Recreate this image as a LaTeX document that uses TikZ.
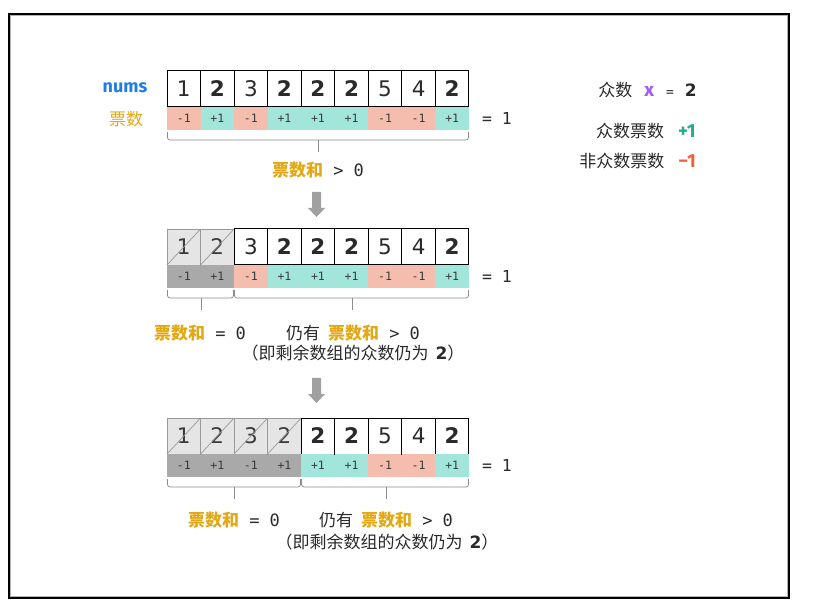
\documentclass[tikz,border=0pt]{standalone}
\usepackage{fontspec}
\setmainfont{DejaVu Sans}
\newfontfamily\cjk{Noto Sans CJK SC}
\newfontfamily\mono{DejaVu Sans Mono}
\newfontfamily\fira{Fira Sans}
\definecolor{goldc}{HTML}{E2A816}
\definecolor{bluec}{HTML}{1F7DE6}
\definecolor{pinkc}{HTML}{F4BDAE}
\definecolor{tealc}{HTML}{A2E5DA}
\definecolor{deadvote}{HTML}{A9A9A9}
\definecolor{deadfill}{HTML}{E5E5E5}
\definecolor{deadline}{HTML}{999999}
\definecolor{deadtext}{HTML}{3A3A3A}
\definecolor{votetext}{HTML}{3A3A3A}
\definecolor{greenc}{HTML}{2AAA8A}
\definecolor{redc}{HTML}{F0603A}
\definecolor{purplec}{HTML}{A35CF5}
\definecolor{arrowgray}{HTML}{A0A0A0}
\definecolor{bracegray}{HTML}{8C8C8C}
\definecolor{textc}{HTML}{2A2A2A}
\newcommand\gsum{{\cjk\bfseries\color{goldc}票数和}}
\newcommand\myrow[3]{%
  \foreach \v/\s/\w [count=\i from 0] in {#3} {%
    \pgfmathsetmacro\xx{167+\i*33.55}%
    \ifcase\s
      \node[celln] (#1c\i) at (\xx,#2) {\v};
    \or
      \node[cellb] (#1c\i) at (\xx,#2) {\v};
    \or
      \node[celld] (#1c\i) at (\xx,#2) {\v};
      \draw[deadline, line width=0.7pt] (#1c\i.south west) -- (#1c\i.north east);
    \fi
    \ifcase\w
      \node[votem] (#1v\i) at (\xx,#2+36) {-1};
    \or
      \node[votep] (#1v\i) at (\xx,#2+36) {+1};
    \or
      \node[voted] (#1v\i) at (\xx,#2+36) {-1};
    \or
      \node[voted] (#1v\i) at (\xx,#2+36) {+1};
    \fi
  }}
\newcommand\mybrace[4]{%
  \draw[bracestyle, rounded corners=2.5pt] (#1,#3) -- (#1,#3+8) -- (#2,#3+8) -- (#2,#3);
  \draw[bracestyle] (#4,#3+8) -- (#4,#3+20);}
\newcommand\graydownarrow[1]{%
  \fill[arrowgray] (312,#1) -- (321,#1) -- (321,#1+16) -- (325,#1+16) -- (316.5,#1+25) -- (308,#1+16) -- (312,#1+16) -- cycle;}
\begin{document}
\begin{tikzpicture}[x=1pt,y=-1pt,
  cellbase/.style={minimum width=33.55pt, minimum height=36pt, inner sep=0pt, outer sep=0pt, anchor=north west, font=\fontsize{21.5}{21.5}\selectfont, text=textc},
  celln/.style={cellbase, draw=black, line width=1pt, fill=white},
  cellb/.style={celln, font=\fontsize{21.5}{21.5}\selectfont\bfseries},
  celld/.style={cellbase, draw=deadline, line width=0.8pt, fill=deadfill, text=deadtext},
  votebase/.style={minimum width=33.55pt, minimum height=23pt, inner sep=0pt, outer sep=0pt, anchor=north west, font=\mono\fontsize{11.5}{11.5}\selectfont, text=votetext},
  votem/.style={votebase, fill=pinkc},
  votep/.style={votebase, fill=tealc},
  voted/.style={votebase, fill=deadvote},
  bracestyle/.style={draw=bracegray, line width=0.8pt},
  lbl/.style={font=\fontsize{17}{17}\selectfont, text=textc, inner sep=0pt},
]
\useasboundingbox (0,0) rectangle (819,609);
\fill[white] (0,0) rectangle (819,609);
% frame
\draw[gray!60, line width=1pt] (10.8,15.8) rectangle (787.2,596.2);
\draw[black, line width=1.5pt] (9,14) rectangle (789,598);

% labels
\node[font=\fira\bfseries\fontsize{18}{18}\selectfont, text=bluec] (nums) at (125,88) {nums};
\node[font=\cjk\fontsize{17}{17}\selectfont, text=goldc] (votelbl) at (126,119) {票数};

% rows
\myrow{a}{71}{1/0/0, 2/1/1, 3/0/0, 2/1/1, 2/1/1, 2/1/1, 5/0/0, 4/0/0, 2/1/1}
\myrow{b}{229}{1/2/2, 2/2/3, 3/0/0, 2/1/1, 2/1/1, 2/1/1, 5/0/0, 4/0/0, 2/1/1}
\myrow{c}{418}{1/2/2, 2/2/3, 3/2/2, 2/2/3, 2/1/1, 2/1/1, 5/0/0, 4/0/0, 2/1/1}

% "= 1"
\node[lbl, font=\mono\fontsize{16.5}{16.5}\selectfont] (eqa) at (497,118) {=\ 1};
\node[lbl, font=\mono\fontsize{16.5}{16.5}\selectfont] (eqb) at (497,276) {=\ 1};
\node[lbl, font=\mono\fontsize{16.5}{16.5}\selectfont] (eqc) at (497,465) {=\ 1};

% braces
\mybrace{167.5}{468.5}{132}{318}
\mybrace{167.5}{233.5}{290}{201}
\mybrace{234.5}{468.5}{290}{352}
\mybrace{167.5}{300.5}{479}{234}
\mybrace{301.5}{468.5}{479}{386}

% row texts
\node[lbl] (ta) at (318,170) {\gsum{\mono\ >\ 0}};
\node[lbl] (tb1) at (200,333) {\gsum{\mono\ =\ 0}};
\node[lbl] (tb2) at (353,333) {{\cjk 仍有}\hspace{8pt}\gsum{\mono\ >\ 0}};
\node[lbl] (tb3) at (353,353) {{\cjk （即剩余数组的众数仍为}\hspace{7pt}\textbf{2}{\cjk ）}};
\node[lbl] (tc1) at (234,520) {\gsum{\mono\ =\ 0}};
\node[lbl] (tc2) at (386,520) {{\cjk 仍有}\hspace{8pt}\gsum{\mono\ >\ 0}};
\node[lbl] (tc3) at (387,542) {{\cjk （即剩余数组的众数仍为}\hspace{7pt}\textbf{2}{\cjk ）}};

% arrows
\graydownarrow{192}
\graydownarrow{378}

% legend
\node[lbl, anchor=east] (lg1) at (697,90) {{\cjk 众数}\hspace{12pt}{\fira\bfseries\fontsize{19}{19}\selectfont\color{purplec}x}\hspace{12pt}{\fontsize{13}{13}\selectfont\mono =}\hspace{11pt}\textbf{2}};
\node[lbl, anchor=east] (lg2) at (696,131) {{\cjk 众数票数}\hspace{14pt}{\fira\bfseries\fontsize{19}{19}\selectfont\color{greenc}+1}};
\node[lbl, anchor=east] (lg3) at (696,161) {{\cjk 非众数票数}\hspace{14pt}{\fira\bfseries\fontsize{19}{19}\selectfont\color{redc}−1}};
\end{tikzpicture}
\end{document}
